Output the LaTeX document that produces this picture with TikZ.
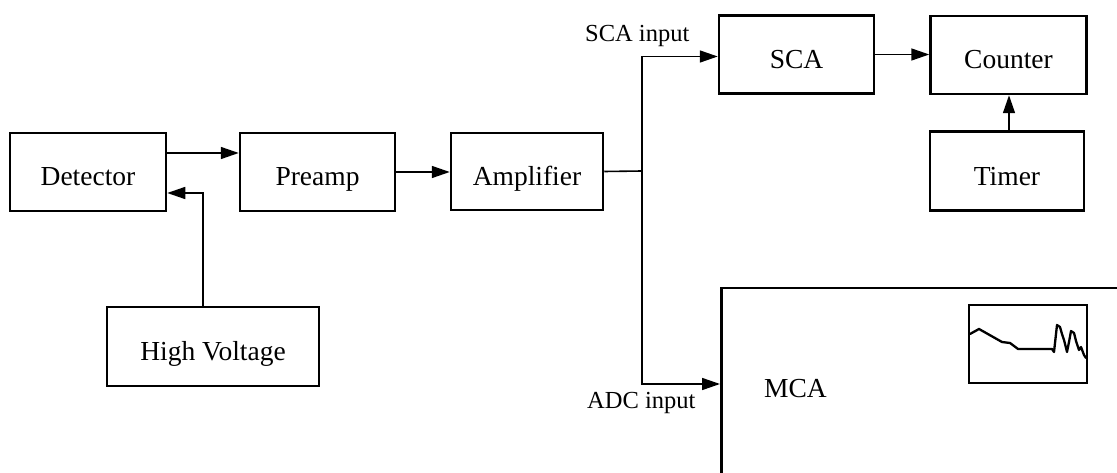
\documentclass[tikz,border=0pt]{standalone}
\usepackage{fontspec}
\setmainfont{Liberation Serif}
\usetikzlibrary{arrows.meta}
\tikzset{
  blk/.style={draw, line width=2.5pt, rectangle, inner sep=0pt, text height=28pt, text depth=0pt, font=\fontsize{27.5}{30}\selectfont},
  arr/.style={line width=1.6pt, -{Triangle[length=18pt,width=12pt]}},
  wire/.style={line width=1.6pt},
  lbl/.style={inner sep=0pt, font=\fontsize{24.5}{27}\selectfont},
  spec/.style={line width=2.3pt, line join=round, line cap=round}
}
\begin{document}
\begin{tikzpicture}[x=1pt,y=-1pt]
\useasboundingbox (0,0) rectangle (1117,473);
\clip (0,0) rectangle (1117,473);
% blocks
\node[blk, minimum width=156pt, minimum height=78pt] (det) at (88,172) {Detector};
\node[blk, minimum width=155pt, minimum height=78pt] (pre) at (317.5,172) {Preamp};
\node[blk, minimum width=152pt, minimum height=77pt] (amp) at (527,171.5) {Amplifier};
\node[blk, minimum width=155pt, minimum height=78pt] (sca) at (796.5,54.5) {SCA};
\node[blk, minimum width=156pt, minimum height=78pt] (cnt) at (1008.5,55) {Counter};
\node[blk, minimum width=154pt, minimum height=79pt] (tim) at (1007,171.2) {Timer};
\node[blk, minimum width=212pt, minimum height=79pt] (hv) at (213,346.5) {High Voltage};
\node[blk, minimum width=500pt, minimum height=300pt, anchor=north west] (mca) at (720,287) {};
\node[blk, minimum width=118pt, minimum height=78pt] (inset) at (1028,344) {};
% labels
\node[lbl, anchor=base west] (scain) at (585,42) {SCA input};
\node[lbl, anchor=base west] (adcin) at (587,408) {ADC input};
\node[inner sep=0pt, anchor=base west, font=\fontsize{27.5}{30}\selectfont] (mcalbl) at (764,397) {MCA};
% junction and inputs
\coordinate (j) at (642,171);
\coordinate (mcain) at (720,384);
% connectors
\draw[arr] ([yshift=19pt]det.east) -- ([yshift=19pt]det.east -| pre.west);
\draw[arr] ([xshift=-10pt]hv.north) |- ([yshift=-21pt]det.east);
\draw[arr] (pre.east) -- (pre.east -| amp.west);
\draw[wire] (amp.east) -- (j);
\draw[arr] (j) |- ([yshift=-2pt]sca.west);
\draw[arr] (j) |- (mcain);
\draw[arr] (sca.east) -- (sca.east -| cnt.west);
\draw[arr] ([xshift=2pt]tim.north) -- ([xshift=2pt]tim.north |- cnt.south);
% spectrum
\draw[spec] (970,334) -- (979,329) -- (1002,342) -- (1010,343) -- (1018,349) -- (1052,349) -- (1054,352) -- (1057,325) -- (1060,327) -- (1062,334) -- (1064,340) -- (1067,352) -- (1069,342) -- (1071,331) -- (1074,333) -- (1076,341) -- (1079,350) -- (1081,347) -- (1084,355) -- (1086,358);
\end{tikzpicture}
\end{document}
